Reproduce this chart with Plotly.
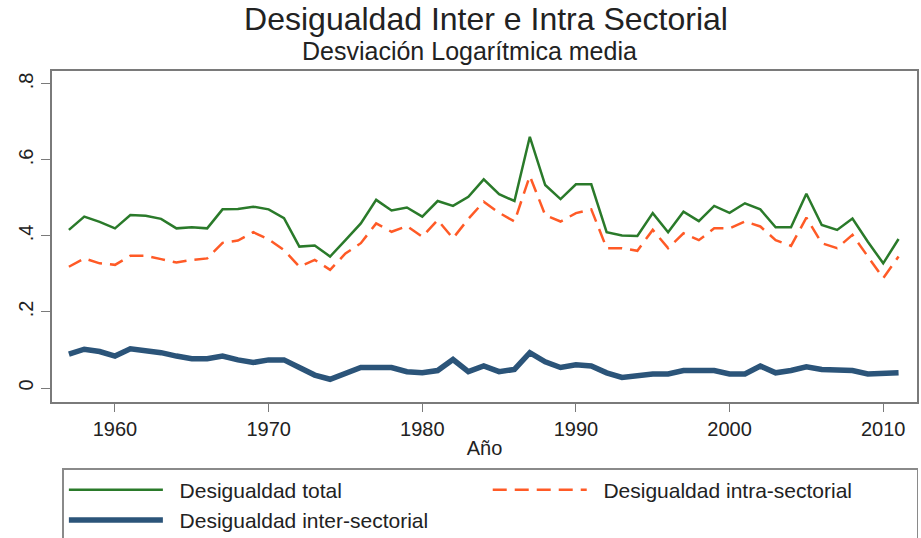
import plotly.graph_objects as go

years = list(range(1957, 2012))

total = [0.416, 0.451, 0.437, 0.420, 0.455, 0.453, 0.445, 0.420, 0.423, 0.420,
         0.470, 0.471, 0.477, 0.470, 0.447, 0.372, 0.375, 0.346, 0.389, 0.433,
         0.495, 0.467, 0.475, 0.451, 0.492, 0.479, 0.503, 0.549, 0.510, 0.492,
         0.661, 0.534, 0.497, 0.536, 0.536, 0.410, 0.401, 0.400, 0.460, 0.410,
         0.464, 0.439, 0.479, 0.461, 0.486, 0.470, 0.423, 0.423, 0.511, 0.429,
         0.416, 0.446, 0.385, 0.328, 0.392]

intra = [0.319, 0.341, 0.328, 0.324, 0.348, 0.348, 0.339, 0.330, 0.337, 0.341,
         0.382, 0.388, 0.410, 0.391, 0.363, 0.319, 0.337, 0.311, 0.354, 0.381,
         0.433, 0.411, 0.426, 0.398, 0.442, 0.394, 0.445, 0.490, 0.461, 0.438,
         0.558, 0.455, 0.438, 0.460, 0.470, 0.368, 0.368, 0.361, 0.416, 0.368,
         0.407, 0.389, 0.420, 0.420, 0.438, 0.425, 0.389, 0.374, 0.448, 0.381,
         0.368, 0.403, 0.346, 0.289, 0.346]

inter = [0.089, 0.102, 0.096, 0.084, 0.103, 0.098, 0.093, 0.084, 0.077, 0.077,
         0.084, 0.074, 0.067, 0.074, 0.074, 0.054, 0.034, 0.023, 0.037, 0.054,
         0.054, 0.054, 0.043, 0.040, 0.046, 0.075, 0.043, 0.058, 0.043, 0.049,
         0.093, 0.069, 0.054, 0.061, 0.058, 0.040, 0.028, 0.034, 0.037, 0.037,
         0.046, 0.046, 0.046, 0.037, 0.037, 0.058, 0.040, 0.046, 0.056, 0.049,
         0.046, 0.046, 0.037, 0.037, 0.040]

series_names = ["Desigualdad total", "Desigualdad intra-sectorial", "Desigualdad inter-sectorial"]
x_ticks = [1960, 1970, 1980, 1990, 2000, 2010]
y_ticks = [0, 0.2, 0.4, 0.6, 0.8]
y_labels = ["0", ".2", ".4", ".6", ".8"]
title_text = "Desigualdad Inter e Intra Sectorial"
subtitle_text = "Desviación Logarítmica media"
x_title = "Año"

FONT = "Liberation Sans, Arial, sans-serif"
AX = "#7a7a7a"
TXT = "#222222"
PAD = "\u00a0\u00a0"

fig = go.Figure()
fig.add_trace(go.Scatter(x=years, y=total, mode="lines", name=PAD + series_names[0],
                         line=dict(color="#2a7a2a", width=2.5)))
fig.add_trace(go.Scatter(x=years, y=intra, mode="lines", name=PAD + series_names[1],
                         line=dict(color="#ff5a26", width=2.5, dash="14px,8px")))
fig.add_trace(go.Scatter(x=years, y=inter, mode="lines", name=PAD + series_names[2],
                         line=dict(color="#2b5479", width=5.5)))

fig.update_layout(
    width=921, height=538,
    margin=dict(l=52, r=2, t=71, b=136),
    paper_bgcolor="white", plot_bgcolor="white",
    font=dict(family=FONT, color=TXT, size=20),
    title=dict(text=title_text, font=dict(size=32, color=TXT),
               x=486 / 921, xanchor="center", yref="container",
               y=1 - 19 / 538, yanchor="middle"),
    annotations=[dict(text=subtitle_text, xref="paper", yref="paper",
                      x=(470 - 52) / 867, y=(402 - 51) / 331, xanchor="center",
                      yanchor="middle", showarrow=False,
                      font=dict(size=25, color=TXT))],
    showlegend=True,
    legend=dict(orientation="h", xref="paper", x=0.012, xanchor="left",
                yref="container", y=1 - 468 / 538, yanchor="top",
                bordercolor="#8a8a8a", borderwidth=1.5,
                font=dict(size=21, color=TXT),
                entrywidth=0.49, entrywidthmode="fraction",
                itemwidth=94, traceorder="normal"),
)

fig.update_xaxes(range=[1955.9, 2012.2], tickvals=x_ticks, ticks="outside", ticklen=8,
                 tickcolor=AX, linecolor=AX, linewidth=1.5, mirror=True, showgrid=False,
                 zeroline=False, tickfont=dict(size=20),
                 title=dict(text=x_title, font=dict(size=20), standoff=2))
fig.update_yaxes(range=[-0.0368, 0.834], tickvals=y_ticks, ticktext=y_labels,
                 ticks="outside", ticklen=9, tickcolor=AX, linecolor=AX, linewidth=1.5,
                 mirror=True, showgrid=False, zeroline=False, tickangle=-90,
                 tickfont=dict(size=20))

fig.write_html("out.html", config={"displayModeBar": False},
               post_script="document.body.style.margin='0';")
